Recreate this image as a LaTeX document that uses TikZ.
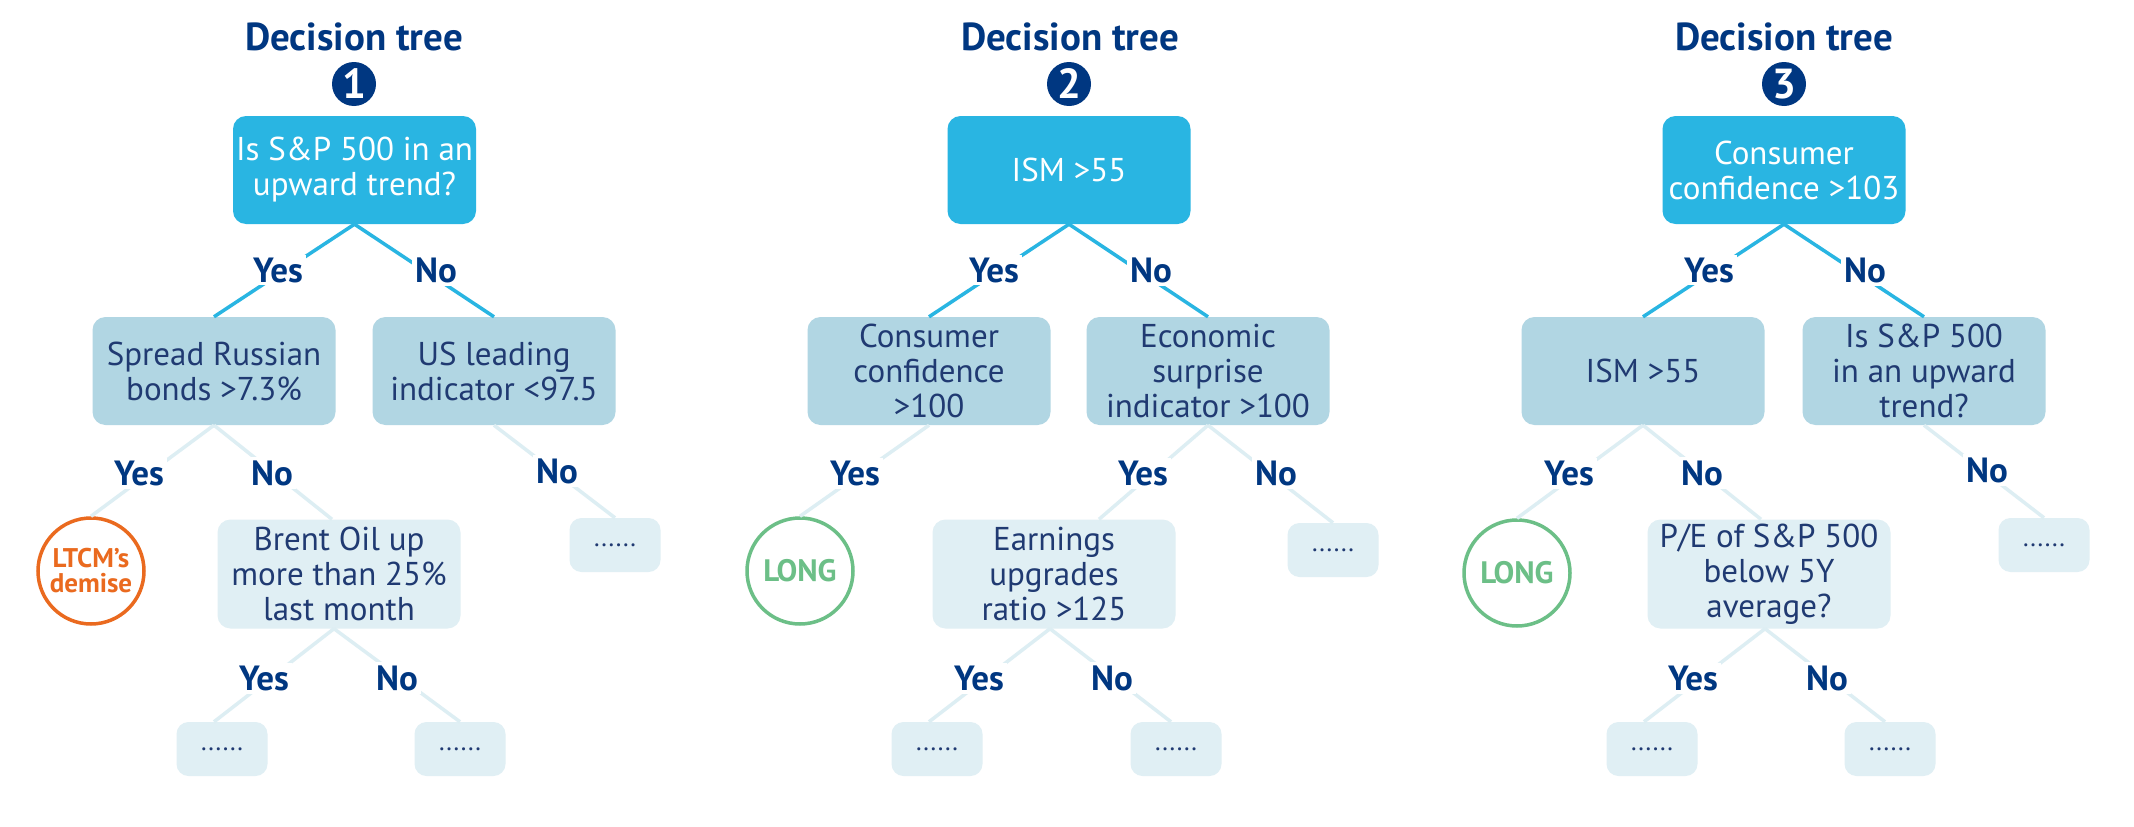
\documentclass[tikz,border=0pt]{standalone}
\usepackage{fontspec}
\setmainfont{PT Sans}
\definecolor{cNavy}{HTML}{003781}
\definecolor{cRoot}{HTML}{29B5E2}
\definecolor{cMid}{HTML}{B1D6E3}
\definecolor{cLow}{HTML}{E0EFF4}
\definecolor{cLine}{HTML}{DDEEF3}
\definecolor{cText}{HTML}{203A72}
\definecolor{cOrange}{HTML}{EA6A1F}
\definecolor{cGreen}{HTML}{6CBF87}
\newcommand\myboxfont{\fontsize{33}{35}\selectfont}
\newcommand\mytitlefont{\bfseries\fontsize{39}{44}\selectfont}
\newcommand\mylblfont{\bfseries\fontsize{35}{40}\selectfont}
\newcommand\mynumfont{\bfseries\fontsize{42}{44}\selectfont}
\newcommand\mydotfont{\fontsize{26}{28}\selectfont}
\tikzset{
  basebox/.style={rectangle, rounded corners=13pt, minimum width=243pt, minimum height=108pt,
    align=center, font=\myboxfont, inner sep=0pt},
  rootbox/.style={basebox, fill=cRoot, text=white},
  midbox/.style={basebox, fill=cMid, text=cText},
  lowbox/.style={basebox, fill=cLow, text=cText, minimum height=109pt},
  dotbox/.style={rectangle, rounded corners=12pt, fill=cLow, minimum width=91pt, minimum height=54pt,
    text=cText, font=\mydotfont, inner sep=0pt},
  numcirc/.style={circle, fill=cNavy, text=white, minimum size=44pt, inner sep=0pt, font=\mynumfont},
  leafcirc/.style={circle, draw, fill=white, line width=3.5pt, minimum size=106pt, inner sep=0pt, align=center},
  orangeleaf/.style={leafcirc, draw=cOrange, text=cOrange, font=\bfseries\fontsize{27}{25}\selectfont},
  greenleaf/.style={leafcirc, draw=cGreen, text=cGreen, font=\bfseries\fontsize{31}{31}\selectfont},
  titletext/.style={text=cNavy, font=\mytitlefont, anchor=base, inner sep=0pt},
  lbl/.style={fill=white, text=cNavy, font=\mylblfont, inner sep=3pt},
  topline/.style={draw=cRoot, line width=3.5pt},
  lowline/.style={draw=cLine, line width=3.5pt},
}
\begin{document}
\begin{tikzpicture}[x=1pt,y=-1pt]
\path[use as bounding box, fill=white] (0,0) rectangle (2134,827);

% ---------------- Tree 1 ----------------
\node[titletext] (t1) at (354,50) {Decision tree};
\node[numcirc] (n1) at (354,84) {1};
\node[rootbox] (r1) at (354.5,170) {Is S\&P 500 in an\\upward trend?};
\node[midbox] (a1) at (214,371) {Spread Russian\\bonds >7.3\%};
\node[midbox] (b1) at (494,371) {US leading\\indicator <97.5};
\node[orangeleaf] (ltcm) at (91,571) {LTCM’s\\demise};
\node[lowbox] (brent) at (339,574) {Brent Oil up\\more than 25\%\\last month};
\node[dotbox] (d1a) at (615,545) {......};
\node[dotbox] (d1b) at (222,749) {......};
\node[dotbox] (d1c) at (460,749) {......};

\draw[topline] (r1.south) -- (a1.north);
\draw[topline] (r1.south) -- (b1.north);
\draw[lowline] (a1.south) -- (ltcm.north);
\draw[lowline] (a1.south) -- ([xshift=-7pt]brent.north);
\draw[lowline] (b1.south) -- (d1a.north);
\draw[lowline] ([xshift=-5pt]brent.south) -- ([xshift=-8pt]d1b.north);
\draw[lowline] ([xshift=-5pt]brent.south) -- (d1c.north);

\node[lbl] (y1a) at (278,270) {Yes};
\node[lbl] (n1a) at (436,270) {No};
\node[lbl] (y1b) at (139,473) {Yes};
\node[lbl] (n1b) at (272,473) {No};
\node[lbl] (n1c) at (557,471) {No};
\node[lbl] (y1d) at (264,678) {Yes};
\node[lbl] (n1d) at (397,678) {No};

% ---------------- Tree 2 ----------------
\node[titletext] (t2) at (1070,50) {Decision tree};
\node[numcirc] (n2) at (1069,84) {2};
\node[rootbox] (r2) at (1069,170) {ISM >55};
\node[midbox] (a2) at (929,371) {Consumer\\confidence\\>100};
\node[midbox] (b2) at (1208,371) {Economic\\surprise\\indicator >100};
\node[greenleaf] (long2) at (800,571) {LONG};
\node[lowbox] (earn) at (1054,574) {Earnings\\upgrades\\ratio >125};
\node[dotbox] (d2a) at (1333,550) {......};
\node[dotbox] (d2b) at (937,749) {......};
\node[dotbox] (d2c) at (1176,749) {......};

\draw[topline] (r2.south) -- (a2.north);
\draw[topline] (r2.south) -- (b2.north);
\draw[lowline] (a2.south) -- (long2.north);
\draw[lowline] (b2.south) -- ([xshift=45pt]earn.north);
\draw[lowline] (b2.south) -- (d2a.north);
\draw[lowline] ([xshift=-4pt]earn.south) -- ([xshift=-8pt]d2b.north);
\draw[lowline] ([xshift=-4pt]earn.south) -- ([xshift=-5pt]d2c.north);

\node[lbl] (y2a) at (994,270) {Yes};
\node[lbl] (n2a) at (1151,270) {No};
\node[lbl] (y2b) at (855,473) {Yes};
\node[lbl] (y2c) at (1143,473) {Yes};
\node[lbl] (n2c) at (1276,473) {No};
\node[lbl] (y2d) at (979,678) {Yes};
\node[lbl] (n2d) at (1112,678) {No};

% ---------------- Tree 3 ----------------
\node[titletext] (t3) at (1784,50) {Decision tree};
\node[numcirc] (n3) at (1784,84) {3};
\node[rootbox] (r3) at (1784,170) {Consumer\\confidence >103};
\node[midbox] (a3) at (1643,371) {ISM >55};
\node[midbox] (b3) at (1924,371) {Is S\&P 500\\in an upward\\trend?};
\node[greenleaf] (long3) at (1517,573) {LONG};
\node[lowbox] (pe) at (1769,574) {P/E of S\&P 500\\below 5Y\\average?};
\node[dotbox] (d3a) at (2044,545) {......};
\node[dotbox] (d3b) at (1652,749) {......};
\node[dotbox] (d3c) at (1890,749) {......};

\draw[topline] (r3.south) -- (a3.north);
\draw[topline] (r3.south) -- (b3.north);
\draw[lowline] (a3.south) -- (long3.north);
\draw[lowline] (a3.south) -- ([xshift=-8pt]pe.north);
\draw[lowline] (b3.south) -- (d3a.north);
\draw[lowline] ([xshift=-4pt]pe.south) -- ([xshift=-8pt]d3b.north);
\draw[lowline] ([xshift=-4pt]pe.south) -- ([xshift=-5pt]d3c.north);

\node[lbl] (y3a) at (1709,270) {Yes};
\node[lbl] (n3a) at (1865,270) {No};
\node[lbl] (y3b) at (1569,473) {Yes};
\node[lbl] (n3b) at (1702,473) {No};
\node[lbl] (n3c) at (1987,470) {No};
\node[lbl] (y3d) at (1693,678) {Yes};
\node[lbl] (n3d) at (1827,678) {No};
\end{tikzpicture}
\end{document}
